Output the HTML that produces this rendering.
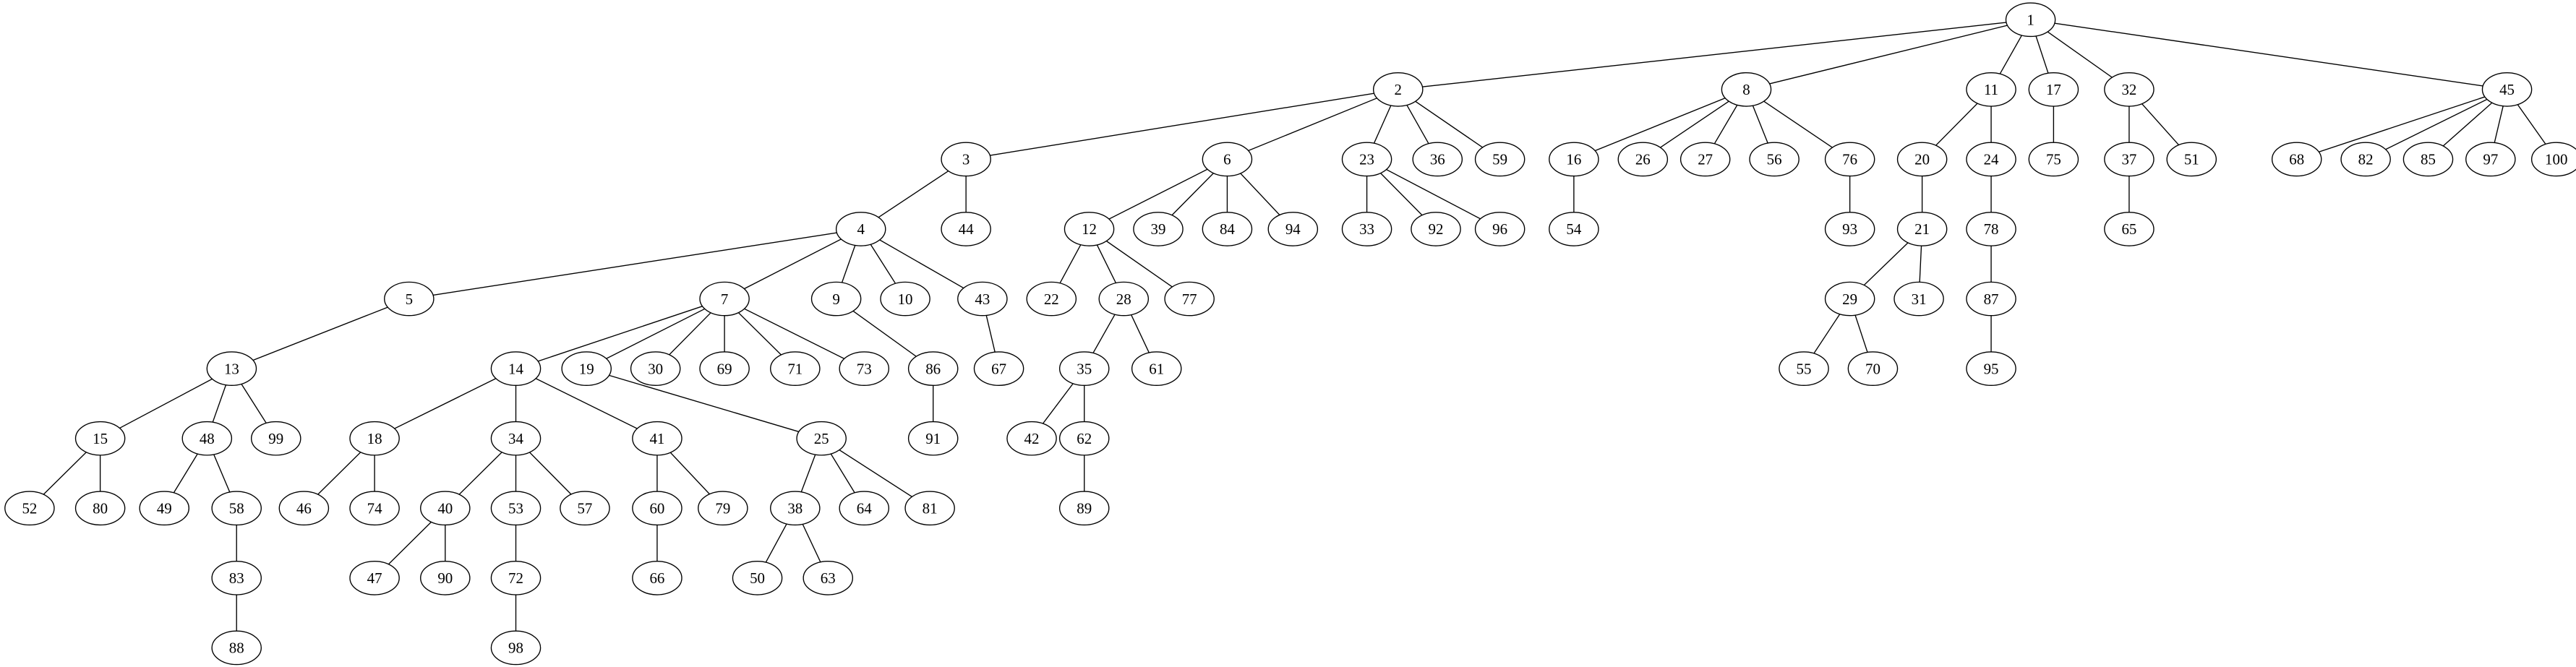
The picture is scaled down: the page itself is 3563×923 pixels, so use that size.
<!DOCTYPE html>
<html><head><meta charset="utf-8"><style>html,body{margin:0;padding:0;background:#fff}svg{display:block}</style></head><body>
<svg width="3563" height="923" viewBox="0 0 1568 406.2" preserveAspectRatio="none" xmlns="http://www.w3.org/2000/svg">
<g stroke="#000" stroke-width="0.6">
<line x1="1236" y1="12" x2="851" y2="54.5"/><line x1="1236" y1="12" x2="1063" y2="54.5"/><line x1="1236" y1="12" x2="1212" y2="54.5"/><line x1="1236" y1="12" x2="1250" y2="54.5"/><line x1="1236" y1="12" x2="1296" y2="54.5"/><line x1="1236" y1="12" x2="1526" y2="54.5"/>
<line x1="851" y1="54.5" x2="588" y2="97"/><line x1="851" y1="54.5" x2="747" y2="97"/><line x1="851" y1="54.5" x2="832" y2="97"/><line x1="851" y1="54.5" x2="875" y2="97"/><line x1="851" y1="54.5" x2="913" y2="97"/>
<line x1="1063" y1="54.5" x2="958" y2="97"/><line x1="1063" y1="54.5" x2="1000" y2="97"/><line x1="1063" y1="54.5" x2="1038" y2="97"/><line x1="1063" y1="54.5" x2="1080" y2="97"/><line x1="1063" y1="54.5" x2="1126" y2="97"/>
<line x1="1212" y1="54.5" x2="1170" y2="97"/><line x1="1212" y1="54.5" x2="1212" y2="97"/><line x1="1250" y1="54.5" x2="1250" y2="97"/><line x1="1296" y1="54.5" x2="1296" y2="97"/><line x1="1296" y1="54.5" x2="1334" y2="97"/>
<line x1="1526" y1="54.5" x2="1398" y2="97"/><line x1="1526" y1="54.5" x2="1440" y2="97"/><line x1="1526" y1="54.5" x2="1478" y2="97"/><line x1="1526" y1="54.5" x2="1516" y2="97"/><line x1="1526" y1="54.5" x2="1556" y2="97"/>
<line x1="588" y1="97" x2="524" y2="139.5"/><line x1="588" y1="97" x2="588" y2="139.5"/><line x1="747" y1="97" x2="663" y2="139.5"/><line x1="747" y1="97" x2="705" y2="139.5"/><line x1="747" y1="97" x2="747" y2="139.5"/><line x1="747" y1="97" x2="787" y2="139.5"/>
<line x1="832" y1="97" x2="832" y2="139.5"/><line x1="832" y1="97" x2="874" y2="139.5"/><line x1="832" y1="97" x2="913" y2="139.5"/><line x1="958" y1="97" x2="958" y2="139.5"/><line x1="1126" y1="97" x2="1126" y2="139.5"/><line x1="1170" y1="97" x2="1170" y2="139.5"/><line x1="1212" y1="97" x2="1212" y2="139.5"/><line x1="1296" y1="97" x2="1296" y2="139.5"/>
<line x1="524" y1="139.5" x2="249" y2="182"/><line x1="524" y1="139.5" x2="441" y2="182"/><line x1="524" y1="139.5" x2="509" y2="182"/><line x1="524" y1="139.5" x2="551" y2="182"/><line x1="524" y1="139.5" x2="598" y2="182"/>
<line x1="663" y1="139.5" x2="640" y2="182"/><line x1="663" y1="139.5" x2="684" y2="182"/><line x1="663" y1="139.5" x2="724" y2="182"/><line x1="1170" y1="139.5" x2="1126" y2="182"/><line x1="1170" y1="139.5" x2="1168" y2="182"/><line x1="1212" y1="139.5" x2="1212" y2="182"/>
<line x1="249" y1="182" x2="141" y2="224.5"/><line x1="441" y1="182" x2="314" y2="224.5"/><line x1="441" y1="182" x2="357" y2="224.5"/><line x1="441" y1="182" x2="399" y2="224.5"/><line x1="441" y1="182" x2="441" y2="224.5"/><line x1="441" y1="182" x2="484" y2="224.5"/><line x1="441" y1="182" x2="526" y2="224.5"/>
<line x1="509" y1="182" x2="568" y2="224.5"/><line x1="598" y1="182" x2="608" y2="224.5"/><line x1="684" y1="182" x2="660" y2="224.5"/><line x1="684" y1="182" x2="704" y2="224.5"/><line x1="1126" y1="182" x2="1098" y2="224.5"/><line x1="1126" y1="182" x2="1140" y2="224.5"/><line x1="1212" y1="182" x2="1212" y2="224.5"/>
<line x1="141" y1="224.5" x2="61" y2="267"/><line x1="141" y1="224.5" x2="126" y2="267"/><line x1="141" y1="224.5" x2="168" y2="267"/><line x1="314" y1="224.5" x2="228" y2="267"/><line x1="314" y1="224.5" x2="314" y2="267"/><line x1="314" y1="224.5" x2="400" y2="267"/>
<line x1="357" y1="224.5" x2="500" y2="267"/><line x1="568" y1="224.5" x2="568" y2="267"/><line x1="660" y1="224.5" x2="628" y2="267"/><line x1="660" y1="224.5" x2="660" y2="267"/>
<line x1="61" y1="267" x2="18" y2="309.5"/><line x1="61" y1="267" x2="61" y2="309.5"/><line x1="126" y1="267" x2="100" y2="309.5"/><line x1="126" y1="267" x2="144" y2="309.5"/><line x1="228" y1="267" x2="185" y2="309.5"/><line x1="228" y1="267" x2="228" y2="309.5"/>
<line x1="314" y1="267" x2="271" y2="309.5"/><line x1="314" y1="267" x2="314" y2="309.5"/><line x1="314" y1="267" x2="356" y2="309.5"/><line x1="400" y1="267" x2="400" y2="309.5"/><line x1="400" y1="267" x2="440" y2="309.5"/>
<line x1="500" y1="267" x2="484" y2="309.5"/><line x1="500" y1="267" x2="526" y2="309.5"/><line x1="500" y1="267" x2="566" y2="309.5"/><line x1="660" y1="267" x2="660" y2="309.5"/>
<line x1="144" y1="309.5" x2="144" y2="352"/><line x1="271" y1="309.5" x2="228" y2="352"/><line x1="271" y1="309.5" x2="271" y2="352"/><line x1="314" y1="309.5" x2="314" y2="352"/><line x1="400" y1="309.5" x2="400" y2="352"/><line x1="484" y1="309.5" x2="461" y2="352"/><line x1="484" y1="309.5" x2="504" y2="352"/>
<line x1="144" y1="352" x2="144" y2="394.5"/><line x1="314" y1="352" x2="314" y2="394.5"/>
</g>
<g fill="#fff" stroke="#000" stroke-width="0.6">
<ellipse cx="1236" cy="12" rx="15" ry="10.2"/>
<ellipse cx="851" cy="54.5" rx="15" ry="10.2"/><ellipse cx="1063" cy="54.5" rx="15" ry="10.2"/><ellipse cx="1212" cy="54.5" rx="15" ry="10.2"/><ellipse cx="1250" cy="54.5" rx="15" ry="10.2"/><ellipse cx="1296" cy="54.5" rx="15" ry="10.2"/><ellipse cx="1526" cy="54.5" rx="15" ry="10.2"/>
<ellipse cx="588" cy="97" rx="15" ry="10.2"/><ellipse cx="747" cy="97" rx="15" ry="10.2"/><ellipse cx="832" cy="97" rx="15" ry="10.2"/><ellipse cx="875" cy="97" rx="15" ry="10.2"/><ellipse cx="913" cy="97" rx="15" ry="10.2"/><ellipse cx="958" cy="97" rx="15" ry="10.2"/><ellipse cx="1000" cy="97" rx="15" ry="10.2"/><ellipse cx="1038" cy="97" rx="15" ry="10.2"/><ellipse cx="1080" cy="97" rx="15" ry="10.2"/><ellipse cx="1126" cy="97" rx="15" ry="10.2"/><ellipse cx="1170" cy="97" rx="15" ry="10.2"/><ellipse cx="1212" cy="97" rx="15" ry="10.2"/><ellipse cx="1250" cy="97" rx="15" ry="10.2"/><ellipse cx="1296" cy="97" rx="15" ry="10.2"/><ellipse cx="1334" cy="97" rx="15" ry="10.2"/><ellipse cx="1398" cy="97" rx="15" ry="10.2"/><ellipse cx="1440" cy="97" rx="15" ry="10.2"/><ellipse cx="1478" cy="97" rx="15" ry="10.2"/><ellipse cx="1516" cy="97" rx="15" ry="10.2"/><ellipse cx="1556" cy="97" rx="15" ry="10.2"/>
<ellipse cx="524" cy="139.5" rx="15" ry="10.2"/><ellipse cx="588" cy="139.5" rx="15" ry="10.2"/><ellipse cx="663" cy="139.5" rx="15" ry="10.2"/><ellipse cx="705" cy="139.5" rx="15" ry="10.2"/><ellipse cx="747" cy="139.5" rx="15" ry="10.2"/><ellipse cx="787" cy="139.5" rx="15" ry="10.2"/><ellipse cx="832" cy="139.5" rx="15" ry="10.2"/><ellipse cx="874" cy="139.5" rx="15" ry="10.2"/><ellipse cx="913" cy="139.5" rx="15" ry="10.2"/><ellipse cx="958" cy="139.5" rx="15" ry="10.2"/><ellipse cx="1126" cy="139.5" rx="15" ry="10.2"/><ellipse cx="1170" cy="139.5" rx="15" ry="10.2"/><ellipse cx="1212" cy="139.5" rx="15" ry="10.2"/><ellipse cx="1296" cy="139.5" rx="15" ry="10.2"/>
<ellipse cx="249" cy="182" rx="15" ry="10.2"/><ellipse cx="441" cy="182" rx="15" ry="10.2"/><ellipse cx="509" cy="182" rx="15" ry="10.2"/><ellipse cx="551" cy="182" rx="15" ry="10.2"/><ellipse cx="598" cy="182" rx="15" ry="10.2"/><ellipse cx="640" cy="182" rx="15" ry="10.2"/><ellipse cx="684" cy="182" rx="15" ry="10.2"/><ellipse cx="724" cy="182" rx="15" ry="10.2"/><ellipse cx="1126" cy="182" rx="15" ry="10.2"/><ellipse cx="1168" cy="182" rx="15" ry="10.2"/><ellipse cx="1212" cy="182" rx="15" ry="10.2"/>
<ellipse cx="141" cy="224.5" rx="15" ry="10.2"/><ellipse cx="314" cy="224.5" rx="15" ry="10.2"/><ellipse cx="357" cy="224.5" rx="15" ry="10.2"/><ellipse cx="399" cy="224.5" rx="15" ry="10.2"/><ellipse cx="441" cy="224.5" rx="15" ry="10.2"/><ellipse cx="484" cy="224.5" rx="15" ry="10.2"/><ellipse cx="526" cy="224.5" rx="15" ry="10.2"/><ellipse cx="568" cy="224.5" rx="15" ry="10.2"/><ellipse cx="608" cy="224.5" rx="15" ry="10.2"/><ellipse cx="660" cy="224.5" rx="15" ry="10.2"/><ellipse cx="704" cy="224.5" rx="15" ry="10.2"/><ellipse cx="1098" cy="224.5" rx="15" ry="10.2"/><ellipse cx="1140" cy="224.5" rx="15" ry="10.2"/><ellipse cx="1212" cy="224.5" rx="15" ry="10.2"/>
<ellipse cx="61" cy="267" rx="15" ry="10.2"/><ellipse cx="126" cy="267" rx="15" ry="10.2"/><ellipse cx="168" cy="267" rx="15" ry="10.2"/><ellipse cx="228" cy="267" rx="15" ry="10.2"/><ellipse cx="314" cy="267" rx="15" ry="10.2"/><ellipse cx="400" cy="267" rx="15" ry="10.2"/><ellipse cx="500" cy="267" rx="15" ry="10.2"/><ellipse cx="568" cy="267" rx="15" ry="10.2"/><ellipse cx="628" cy="267" rx="15" ry="10.2"/><ellipse cx="660" cy="267" rx="15" ry="10.2"/>
<ellipse cx="18" cy="309.5" rx="15" ry="10.2"/><ellipse cx="61" cy="309.5" rx="15" ry="10.2"/><ellipse cx="100" cy="309.5" rx="15" ry="10.2"/><ellipse cx="144" cy="309.5" rx="15" ry="10.2"/><ellipse cx="185" cy="309.5" rx="15" ry="10.2"/><ellipse cx="228" cy="309.5" rx="15" ry="10.2"/><ellipse cx="271" cy="309.5" rx="15" ry="10.2"/><ellipse cx="314" cy="309.5" rx="15" ry="10.2"/><ellipse cx="356" cy="309.5" rx="15" ry="10.2"/><ellipse cx="400" cy="309.5" rx="15" ry="10.2"/><ellipse cx="440" cy="309.5" rx="15" ry="10.2"/><ellipse cx="484" cy="309.5" rx="15" ry="10.2"/><ellipse cx="526" cy="309.5" rx="15" ry="10.2"/><ellipse cx="566" cy="309.5" rx="15" ry="10.2"/><ellipse cx="660" cy="309.5" rx="15" ry="10.2"/>
<ellipse cx="144" cy="352" rx="15" ry="10.2"/><ellipse cx="228" cy="352" rx="15" ry="10.2"/><ellipse cx="271" cy="352" rx="15" ry="10.2"/><ellipse cx="314" cy="352" rx="15" ry="10.2"/><ellipse cx="400" cy="352" rx="15" ry="10.2"/><ellipse cx="461" cy="352" rx="15" ry="10.2"/><ellipse cx="504" cy="352" rx="15" ry="10.2"/>
<ellipse cx="144" cy="394.5" rx="15" ry="10.2"/><ellipse cx="314" cy="394.5" rx="15" ry="10.2"/>
</g>
<g font-family="Liberation Serif, serif" font-size="9.2" text-anchor="middle" fill="#000">
<text x="1236" y="15.2">1</text>
<text x="851" y="57.7">2</text><text x="1063" y="57.7">8</text><text x="1212" y="57.7">11</text><text x="1250" y="57.7">17</text><text x="1296" y="57.7">32</text><text x="1526" y="57.7">45</text>
<text x="588" y="100.2">3</text><text x="747" y="100.2">6</text><text x="832" y="100.2">23</text><text x="875" y="100.2">36</text><text x="913" y="100.2">59</text><text x="958" y="100.2">16</text><text x="1000" y="100.2">26</text><text x="1038" y="100.2">27</text><text x="1080" y="100.2">56</text><text x="1126" y="100.2">76</text><text x="1170" y="100.2">20</text><text x="1212" y="100.2">24</text><text x="1250" y="100.2">75</text><text x="1296" y="100.2">37</text><text x="1334" y="100.2">51</text><text x="1398" y="100.2">68</text><text x="1440" y="100.2">82</text><text x="1478" y="100.2">85</text><text x="1516" y="100.2">97</text><text x="1556" y="100.2">100</text>
<text x="524" y="142.7">4</text><text x="588" y="142.7">44</text><text x="663" y="142.7">12</text><text x="705" y="142.7">39</text><text x="747" y="142.7">84</text><text x="787" y="142.7">94</text><text x="832" y="142.7">33</text><text x="874" y="142.7">92</text><text x="913" y="142.7">96</text><text x="958" y="142.7">54</text><text x="1126" y="142.7">93</text><text x="1170" y="142.7">21</text><text x="1212" y="142.7">78</text><text x="1296" y="142.7">65</text>
<text x="249" y="185.2">5</text><text x="441" y="185.2">7</text><text x="509" y="185.2">9</text><text x="551" y="185.2">10</text><text x="598" y="185.2">43</text><text x="640" y="185.2">22</text><text x="684" y="185.2">28</text><text x="724" y="185.2">77</text><text x="1126" y="185.2">29</text><text x="1168" y="185.2">31</text><text x="1212" y="185.2">87</text>
<text x="141" y="227.7">13</text><text x="314" y="227.7">14</text><text x="357" y="227.7">19</text><text x="399" y="227.7">30</text><text x="441" y="227.7">69</text><text x="484" y="227.7">71</text><text x="526" y="227.7">73</text><text x="568" y="227.7">86</text><text x="608" y="227.7">67</text><text x="660" y="227.7">35</text><text x="704" y="227.7">61</text><text x="1098" y="227.7">55</text><text x="1140" y="227.7">70</text><text x="1212" y="227.7">95</text>
<text x="61" y="270.2">15</text><text x="126" y="270.2">48</text><text x="168" y="270.2">99</text><text x="228" y="270.2">18</text><text x="314" y="270.2">34</text><text x="400" y="270.2">41</text><text x="500" y="270.2">25</text><text x="568" y="270.2">91</text><text x="628" y="270.2">42</text><text x="660" y="270.2">62</text>
<text x="18" y="312.7">52</text><text x="61" y="312.7">80</text><text x="100" y="312.7">49</text><text x="144" y="312.7">58</text><text x="185" y="312.7">46</text><text x="228" y="312.7">74</text><text x="271" y="312.7">40</text><text x="314" y="312.7">53</text><text x="356" y="312.7">57</text><text x="400" y="312.7">60</text><text x="440" y="312.7">79</text><text x="484" y="312.7">38</text><text x="526" y="312.7">64</text><text x="566" y="312.7">81</text><text x="660" y="312.7">89</text>
<text x="144" y="355.2">83</text><text x="228" y="355.2">47</text><text x="271" y="355.2">90</text><text x="314" y="355.2">72</text><text x="400" y="355.2">66</text><text x="461" y="355.2">50</text><text x="504" y="355.2">63</text>
<text x="144" y="397.7">88</text><text x="314" y="397.7">98</text>
</g>
</svg>
</body></html>
